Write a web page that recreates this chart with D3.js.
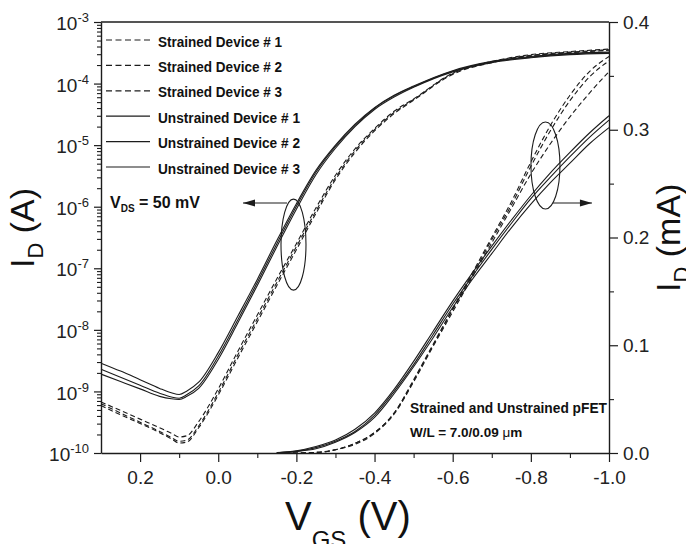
<!DOCTYPE html>
<html><head><meta charset="utf-8">
<script src="https://cdn.jsdelivr.net/npm/d3@7"></script>
<style>
html,body{margin:0;padding:0;background:#fff;}
svg{display:block;font-family:"Liberation Sans",Arial,Helvetica,sans-serif;}
</style></head><body>
<svg id="chart" width="686" height="544"></svg>
<script>
// ---------- DATA ----------
// Gate voltage grid for the log-scale (left axis) curves, V
const vgsLog = [0.3,0.25,0.2,0.15,0.12,0.1,0.08,0.05,0.0,-0.05,-0.1,-0.15,-0.2,-0.25,-0.3,-0.35,-0.4,-0.45,-0.5,-0.6,-0.7,-0.8,-0.9,-1.0];
// Drain current, A (left axis, log)
const strainedLog1 = [6.76e-10,4.90e-10,3.55e-10,2.57e-10,2.09e-10,1.82e-10,1.91e-10,3.24e-10,1.10e-9,4.47e-9,1.74e-8,6.76e-8,2.51e-7,9.55e-7,3.24e-6,8.71e-6,1.86e-5,3.55e-5,5.62e-5,1.48e-4,2.29e-4,2.95e-4,3.31e-4,3.63e-4];
const strainedLog2 = [6.31e-10,4.47e-10,3.16e-10,2.24e-10,1.78e-10,1.55e-10,1.62e-10,2.75e-10,9.55e-10,3.89e-9,1.51e-8,5.89e-8,2.24e-7,8.51e-7,2.95e-6,8.13e-6,1.78e-5,3.39e-5,5.50e-5,1.45e-4,2.24e-4,2.88e-4,3.24e-4,3.55e-4];
const strainedLog3 = [5.89e-10,4.17e-10,3.02e-10,2.14e-10,1.70e-10,1.45e-10,1.51e-10,2.57e-10,8.71e-10,3.47e-9,1.35e-8,5.25e-8,2.00e-7,7.76e-7,2.75e-6,7.59e-6,1.70e-5,3.24e-5,5.37e-5,1.41e-4,2.19e-4,2.82e-4,3.16e-4,3.47e-4];
const unstrainedLog1 = [2.88e-9,2.14e-9,1.55e-9,1.12e-9,9.5e-10,8.9e-10,1.02e-9,1.41e-9,4.27e-9,1.66e-8,6.6e-8,2.82e-7,1.12e-6,3.89e-6,1.0e-5,2.19e-5,4.07e-5,6.46e-5,9.12e-5,1.62e-4,2.29e-4,2.75e-4,3.09e-4,3.24e-4];
const unstrainedLog2 = [2.29e-9,1.70e-9,1.26e-9,9.33e-10,8.13e-10,7.76e-10,8.91e-10,1.23e-9,3.72e-9,1.45e-8,5.89e-8,2.51e-7,1.02e-6,3.63e-6,9.55e-6,2.09e-5,3.98e-5,6.31e-5,8.91e-5,1.58e-4,2.24e-4,2.69e-4,3.02e-4,3.16e-4];
const unstrainedLog3 = [1.91e-9,1.45e-9,1.10e-9,8.32e-10,7.59e-10,7.41e-10,8.32e-10,1.12e-9,3.31e-9,1.29e-8,5.25e-8,2.24e-7,9.12e-7,3.31e-6,8.91e-6,2.00e-5,3.80e-5,6.03e-5,8.71e-5,1.55e-4,2.19e-4,2.63e-4,2.95e-4,3.09e-4];

// Gate voltage grid for the linear-scale (right axis) curves, V
const vgsLin = [-0.15,-0.2,-0.25,-0.3,-0.35,-0.4,-0.45,-0.5,-0.55,-0.6,-0.65,-0.7,-0.75,-0.8,-0.85,-0.9,-0.95,-1.0];
// Drain current, mA (right axis, linear)
const strainedLin1 = [0,0,0.0005,0.003,0.009,0.019,0.037,0.068,0.101,0.134,0.167,0.200,0.233,0.270,0.304,0.332,0.354,0.368];
const strainedLin2 = [0,0,0.0005,0.003,0.009,0.019,0.037,0.067,0.100,0.133,0.165,0.198,0.230,0.266,0.299,0.327,0.349,0.364];
const strainedLin3 = [0,0,0.0005,0.003,0.008,0.018,0.036,0.066,0.099,0.131,0.163,0.195,0.227,0.259,0.287,0.312,0.334,0.354];
const unstrainedLin1 = [0.0003,0.002,0.006,0.012,0.022,0.037,0.059,0.085,0.113,0.141,0.167,0.192,0.216,0.239,0.260,0.279,0.297,0.313];
const unstrainedLin2 = [0.0003,0.0015,0.005,0.011,0.020,0.035,0.057,0.082,0.110,0.138,0.164,0.189,0.213,0.236,0.256,0.275,0.293,0.309];
const unstrainedLin3 = [0.0003,0.0015,0.004,0.010,0.019,0.033,0.055,0.080,0.107,0.135,0.161,0.185,0.209,0.231,0.251,0.269,0.287,0.302];

const seriesNames = ["Strained Device # 1","Strained Device # 2","Strained Device # 3","Unstrained Device # 1","Unstrained Device # 2","Unstrained Device # 3"];

// Ticks
const xTicks = [0.2,0.0,-0.2,-0.4,-0.6,-0.8,-1.0];
const xMinorTicks = [0.1,-0.1,-0.3,-0.5,-0.7,-0.9];
const logTicks = [1e-10,1e-9,1e-8,1e-7,1e-6,1e-5,1e-4,1e-3];
const linTicks = [0.0,0.1,0.2,0.3,0.4];
const linMinorTicks = [0.05,0.15,0.25,0.35];

// ---------- CHART ----------
const m = {left:101, right:609, top:22, bottom:453};
const ink = "#1c1c1c";
const x = d3.scaleLinear().domain([0.3,-1.0]).range([m.left,m.right]);
const yLog = d3.scaleLog().domain([1e-10,1e-3]).range([m.bottom,m.top]);
const yLin = d3.scaleLinear().domain([0,0.4]).range([m.bottom,m.top]);
const svg = d3.select("#chart");

const logSeries = [strainedLog1,strainedLog2,strainedLog3,unstrainedLog1,unstrainedLog2,unstrainedLog3];
const linSeries = [strainedLin1,strainedLin2,strainedLin3,unstrainedLin1,unstrainedLin2,unstrainedLin3];
const isDashed = i => i < 3;

const logLine = d3.line().x((d,i)=>x(vgsLog[i])).y(d=>yLog(d)).curve(d3.curveMonotoneX);
const linLine = d3.line().x((d,i)=>x(vgsLin[i])).y(d=>yLin(d)).curve(d3.curveMonotoneX);

const curves = svg.append("g").attr("fill","none").attr("stroke",ink).attr("stroke-width",1.1);
curves.selectAll("path.log").data(logSeries).join("path").attr("class","log")
  .attr("d",logLine).attr("stroke-dasharray",(d,i)=>isDashed(i)?"5,3":null);
curves.selectAll("path.lin").data(linSeries).join("path").attr("class","lin")
  .attr("d",linLine).attr("stroke-dasharray",(d,i)=>isDashed(i)?"5,3":null);

// Axes
function styleAxis(g){
  g.attr("color",ink).attr("font-size",19).attr("font-family",'"Liberation Sans",Arial,sans-serif');
  g.select(".domain").attr("stroke-width",1.4);
  g.selectAll(".tick line").attr("stroke-width",1.2);
  g.selectAll(".tick text").attr("fill","#222");
}
function noDomain(g){ g.select(".domain").remove(); g.selectAll(".tick line").attr("stroke-width",1.1); g.attr("color",ink); }

svg.append("g").attr("transform",`translate(0,${m.bottom})`)
  .call(d3.axisBottom(x).tickValues(xTicks).tickSize(9).tickSizeOuter(0).tickPadding(9).tickFormat(d=>d.toFixed(1)))
  .call(styleAxis);
svg.append("g").attr("transform",`translate(0,${m.bottom})`)
  .call(d3.axisBottom(x).tickValues(xMinorTicks).tickSize(5).tickFormat(""))
  .call(noDomain);

const gy = svg.append("g").attr("transform",`translate(${m.left},0)`)
  .call(d3.axisLeft(yLog).tickValues(logTicks).tickSize(7).tickSizeOuter(0).tickFormat(""))
  .call(styleAxis);
gy.selectAll(".tick text").each(function(d){
  const t = d3.select(this);
  t.text(null).attr("x",-12).attr("dy","0.4em");
  t.append("tspan").text("10");
  t.append("tspan").attr("font-size",13).attr("dy",-8).text(String(Math.round(Math.log10(d))));
});
const logMinor = [];
for (let e=-10; e<-3; e++) for (let k=2; k<=9; k++) logMinor.push(k*Math.pow(10,e));
svg.append("g").attr("transform",`translate(${m.left},0)`)
  .call(d3.axisLeft(yLog).tickValues(logMinor).tickSize(4).tickFormat(""))
  .call(noDomain);

svg.append("g").attr("transform",`translate(${m.right},0)`)
  .call(d3.axisRight(yLin).tickValues(linTicks).tickSize(9).tickSizeOuter(0).tickPadding(5).tickFormat(d=>d.toFixed(1)))
  .call(styleAxis);
svg.append("g").attr("transform",`translate(${m.right},0)`)
  .call(d3.axisRight(yLin).tickValues(linMinorTicks).tickSize(5).tickFormat(""))
  .call(noDomain);

// top frame line
svg.append("line").attr("x1",x(0.3)).attr("x2",x(-1.0)).attr("y1",yLog(1e-3)).attr("y2",yLog(1e-3))
  .attr("stroke",ink).attr("stroke-width",1.4);

// Legend
const leg = svg.append("g");
seriesNames.forEach((name,i)=>{
  const yy = 40 + 25.4*i;
  leg.append("line").attr("x1",106).attr("x2",150).attr("y1",yy).attr("y2",yy)
    .attr("stroke",ink).attr("stroke-width",1.2).attr("stroke-dasharray",isDashed(i)?"6,3.5":null);
  leg.append("text").attr("x",158).attr("y",yy+6.5).attr("font-size",14).attr("font-weight","bold")
    .attr("fill","#111").attr("textLength",i<3?124:142).attr("lengthAdjust","spacingAndGlyphs").text(name);
});

// Annotations
const vds = svg.append("text").attr("x",x(0.277)).attr("y",yLog(1e-6)+1).attr("font-weight","bold").attr("font-size",16).attr("fill","#111");
vds.append("tspan").text("V");
vds.append("tspan").attr("font-size",10).attr("dy",4).text("DS");
vds.append("tspan").attr("dy",-4).text(" = 50 mV");

const ann = svg.append("g").attr("stroke",ink).attr("fill","none").attr("stroke-width",1.1);
ann.append("ellipse").attr("cx",x(-0.1926)).attr("cy",yLog(Math.pow(10,-6.615))).attr("rx",12.5).attr("ry",45.5);
ann.append("ellipse").attr("cx",x(-0.8374)).attr("cy",yLin(0.2668)).attr("rx",14.5).attr("ry",43.5);

function arrow(x1,x2,yy){
  ann.append("line").attr("x1",x1).attr("x2",x2).attr("y1",yy).attr("y2",yy);
  const dir = Math.sign(x2-x1);
  svg.append("path").attr("d",`M${x2},${yy} L${x2-dir*12},${yy-3.5} L${x2-dir*12},${yy+3.5} Z`).attr("fill",ink);
}
arrow(x(-0.176), x(-0.0634), yLog(Math.pow(10,-5.94)));
arrow(x(-0.8566), x(-0.9564), yLin(0.232));

svg.append("text").attr("x",x(-0.4907)).attr("y",yLin(0.0371)).attr("font-size",14).attr("font-weight","bold").attr("fill","#111")
  .attr("textLength",197).attr("lengthAdjust","spacingAndGlyphs")
  .text("Strained and Unstrained pFET");
const wl = svg.append("text").attr("x",x(-0.4907)).attr("y",yLin(0.0144)).attr("font-size",13.5).attr("font-weight","bold").attr("fill","#111");
wl.append("tspan").text("W/L = 7.0/0.09 ");
wl.append("tspan").attr("font-weight","normal").text("μ");
wl.append("tspan").text("m");

// Axis titles
const xt = svg.append("text").attr("x",285).attr("y",530).attr("font-size",40).attr("fill","#111");
xt.append("tspan").text("V");
xt.append("tspan").attr("font-size",24).attr("dy",18).text("GS");
xt.append("tspan").attr("dy",-18).text(" (V)");

const yt = svg.append("text").attr("transform","translate(34,268) rotate(-90)").attr("font-size",34).attr("fill","#111");
yt.append("tspan").text("I");
yt.append("tspan").attr("font-size",22).attr("dy",9).text("D");
yt.append("tspan").attr("dy",-9).text(" (A)");

const yr = svg.append("text").attr("transform","translate(680,292) rotate(-90)").attr("font-size",34).attr("fill","#111");
yr.append("tspan").text("I");
yr.append("tspan").attr("font-size",22).attr("dy",9).text("D");
yr.append("tspan").attr("dy",-9).text(" (mA)");
</script>
</body></html>
